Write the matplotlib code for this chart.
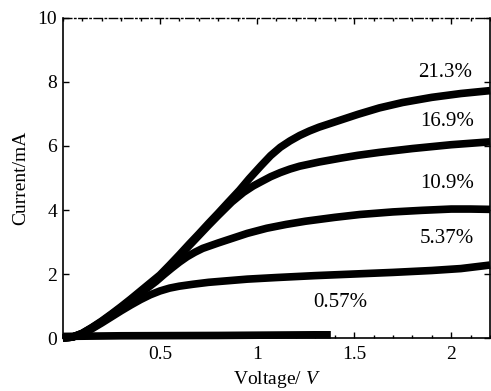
import numpy as np
import matplotlib
matplotlib.use("Agg")
import matplotlib.pyplot as plt
from matplotlib.ticker import MultipleLocator

plt.rcParams['font.family'] = ['Liberation Serif', 'DejaVu Serif']
plt.rcParams['mathtext.fontset'] = 'custom'
plt.rcParams['mathtext.it'] = 'Liberation Serif:italic'
plt.rcParams['mathtext.rm'] = 'Liberation Serif'

# ------------------------------
# Data (voltage in V, current in mA)
# ------------------------------
v_213 = [0, 0.05, 0.1, 0.15, 0.2, 0.25, 0.3, 0.35, 0.4, 0.45, 0.5, 0.55, 0.6, 0.65,
         0.7, 0.75, 0.8, 0.85, 0.91, 0.96, 1.02, 1.07, 1.12, 1.17, 1.22, 1.27, 1.32,
         1.38, 1.43, 1.52, 1.63, 1.75, 1.9, 2.05, 2.2]
i_213 = [0, 0.03, 0.15, 0.33, 0.53, 0.75, 0.98, 1.22, 1.47, 1.72, 1.97, 2.28, 2.6, 2.93,
         3.25, 3.58, 3.9, 4.23, 4.62, 4.98, 5.38, 5.7, 5.96, 6.16, 6.33, 6.47, 6.59,
         6.71, 6.81, 6.99, 7.19, 7.36, 7.52, 7.64, 7.73]

v_169 = [0, 0.05, 0.1, 0.15, 0.2, 0.25, 0.3, 0.35, 0.4, 0.45, 0.5, 0.55, 0.6, 0.65,
         0.7, 0.75, 0.8, 0.87, 0.93, 0.98, 1.02, 1.07, 1.12, 1.17, 1.22, 1.32, 1.43,
         1.52, 1.63, 1.8, 2.0, 2.2]
i_169 = [0, 0.03, 0.14, 0.32, 0.51, 0.73, 0.95, 1.19, 1.43, 1.68, 1.93, 2.23, 2.55, 2.88,
         3.2, 3.52, 3.83, 4.25, 4.55, 4.75, 4.88, 5.04, 5.17, 5.28, 5.37, 5.5, 5.62,
         5.71, 5.8, 5.92, 6.04, 6.13]

v_109 = [0, 0.05, 0.1, 0.15, 0.2, 0.25, 0.3, 0.35, 0.4, 0.45, 0.48, 0.52, 0.56, 0.6,
         0.64, 0.68, 0.72, 0.8, 0.88, 0.95, 1.05, 1.15, 1.25, 1.4, 1.53, 1.7, 1.85,
         2.0, 2.1, 2.2]
i_109 = [0, 0.03, 0.14, 0.31, 0.5, 0.71, 0.93, 1.16, 1.4, 1.63, 1.77, 1.98, 2.18, 2.37,
         2.54, 2.68, 2.8, 2.97, 3.13, 3.27, 3.43, 3.55, 3.65, 3.77, 3.86, 3.94, 3.99,
         4.03, 4.03, 4.02]

v_537 = [0, 0.05, 0.1, 0.15, 0.2, 0.25, 0.3, 0.35, 0.4, 0.45, 0.5, 0.55, 0.6, 0.67,
         0.75, 0.85, 0.95, 1.1, 1.3, 1.5, 1.7, 1.9, 2.05, 2.2]
i_537 = [0, 0.03, 0.13, 0.29, 0.47, 0.66, 0.85, 1.03, 1.2, 1.35, 1.47, 1.56, 1.62, 1.68,
         1.74, 1.79, 1.84, 1.89, 1.95, 2.0, 2.05, 2.11, 2.17, 2.28]

v_057 = [0, 0.3, 0.8, 1.3, 1.38]
i_057 = [0.05, 0.07, 0.08, 0.1, 0.1]

labels = ['21.3%', '16.9%', '10.9%', '5.37%', '0.57%']
label_x = [1.97, 1.98, 1.98, 1.98, 1.43]
label_y = [8.3, 6.75, 4.84, 3.12, 1.12]

# ------------------------------
# Plot
# ------------------------------
fig = plt.figure(figsize=(4.91, 3.91), dpi=100)
ax = fig.add_axes([0.128, 0.1355, 0.87, 0.8185])

for v, i in [(v_213, i_213), (v_169, i_169), (v_109, i_109), (v_537, i_537), (v_057, i_057)]:
    ax.plot(v, i, color='black', lw=5.5, solid_capstyle='butt', solid_joinstyle='round',
            clip_on=False)

for txt, x, y in zip(labels, label_x, label_y):
    ax.text(x, y, txt, fontsize=15, ha='center', va='center')

ax.set_xlim(0, 2.2)
ax.set_ylim(0, 10)
ax.set_xticks([0.5, 1, 1.5, 2])
ax.set_xticklabels(['0.5', '1', '1.5', '2'])
ax.set_yticks([0, 2, 4, 6, 8, 10])
ax.xaxis.set_minor_locator(MultipleLocator(0.1))
ax.tick_params(axis='both', which='both', direction='in', labelsize=14,
               top=True, right=True, width=1)
ax.tick_params(which='major', length=4)
ax.tick_params(which='minor', length=2.5)
ax.tick_params(axis='x', pad=6)
ax.tick_params(axis='y', pad=4)

for s in ['left', 'bottom', 'right']:
    ax.spines[s].set_linewidth(1.2)
ax.spines['top'].set_linewidth(1.0)
ax.spines['top'].set_linestyle((0, (6, 2, 1, 2)))

ax.set_xlabel('Voltage/ $\\mathit{V}$', fontsize=14, labelpad=4)
ax.set_ylabel('Current/mA', fontsize=14, labelpad=6)

fig.savefig('out.png', dpi=100)
